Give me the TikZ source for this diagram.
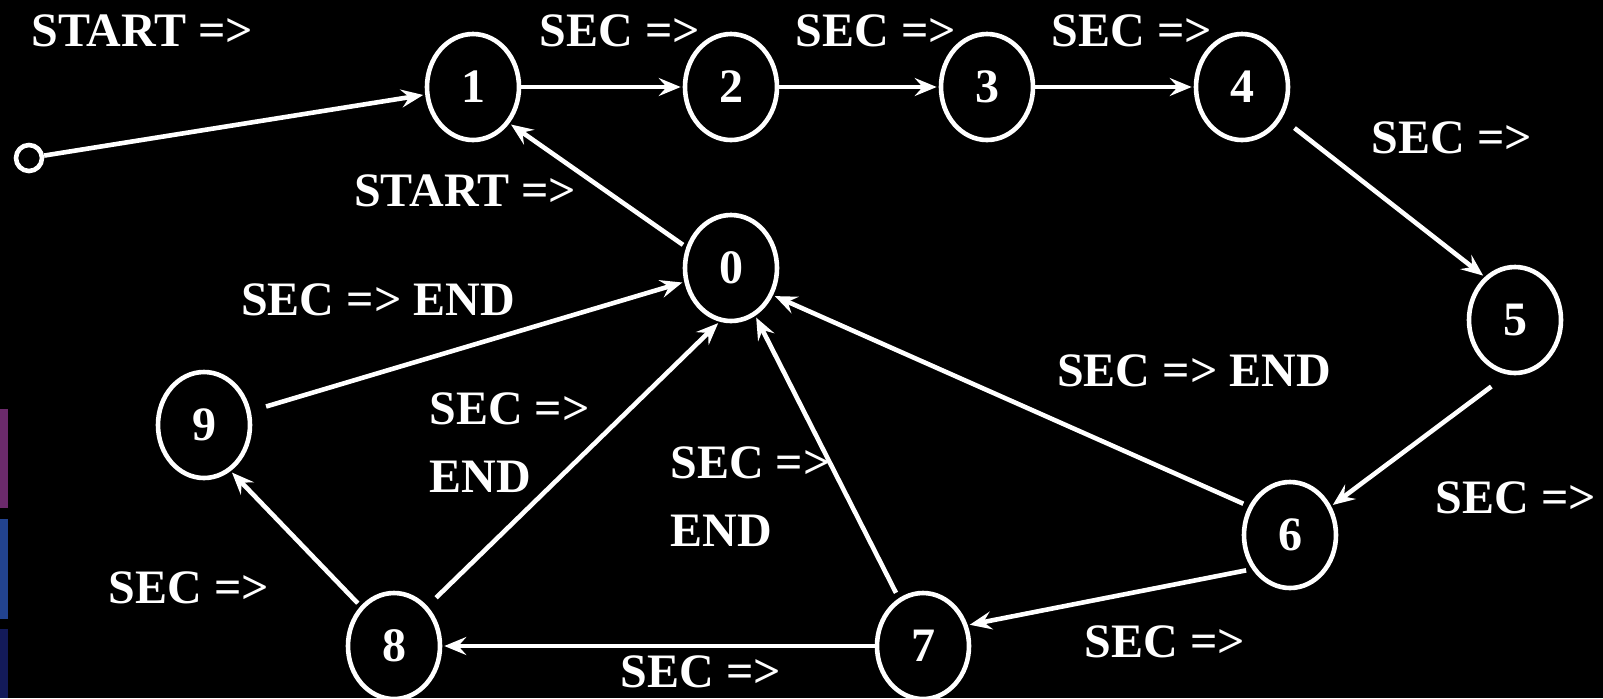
\documentclass[tikz,border=0pt]{standalone}
\usepackage{fontspec}
\setmainfont{Liberation Serif}
\usetikzlibrary{arrows.meta,shapes.geometric}
\begin{document}
\begin{tikzpicture}[x=0.5pt,y=-0.5pt,
  every node/.style={text=white, font=\fontsize{24}{34}\selectfont\bfseries},
  st/.style={draw=white, line width=2.3pt, ellipse, minimum width=46pt, minimum height=53pt, inner sep=0pt},
  lbl/.style={inner sep=0pt},
  conn/.style={draw=white, line width=2.3pt, -{Stealth[length=11pt,width=9pt,inset=4pt]}, shorten >=1pt}]
\fill[black] (0,0) rectangle (1603,698);
\useasboundingbox (0,0) rectangle (1603,698);
% side bars
\fill[fill={rgb,255:red,107;green,42;blue,107}] (0,409) rectangle (8,508);
\fill[fill={rgb,255:red,34;green,67;blue,143}] (0,519) rectangle (8,619);
\fill[fill={rgb,255:red,19;green,26;blue,90}] (0,629) rectangle (8,698);
% states
\node[st] (n1) at (473,87) {1};
\node[st] (n2) at (731,87) {2};
\node[st] (n3) at (987,87) {3};
\node[st] (n4) at (1242,87) {4};
\node[st] (n0) at (731,268) {0};
\node[st] (n5) at (1515,320) {5};
\node[st] (n6) at (1290,535) {6};
\node[st] (n7) at (923,646) {7};
\node[st] (n8) at (394,646) {8};
\node[st] (n9) at (204,425) {9};
\node[draw=white, line width=2.3pt, circle, minimum size=13pt, inner sep=0pt] (s) at (29,158) {};
% connectors
\draw[conn] (s) -- (n1);
\draw[conn] (n1) -- (n2);
\draw[conn] (n2) -- (n3);
\draw[conn] (n3) -- (n4);
\draw[conn, shorten <=8pt] (n4) -- (n5.125);
\draw[conn, shorten <=10pt] (n5.-98) -- (n6.35);
\draw[conn, shorten <=3pt] (n6.145) -- (n0.-33);
\draw[conn, shorten <=3pt] (n6.-138) -- (n7.25);
\draw[conn, shorten <=3pt] (n7) -- (n0);
\draw[conn] (n7) -- (n8);
\draw[conn, shorten <=6pt] (n8.50) -- (n0.-102);
\draw[conn, shorten <=2pt] (n8.130) -- (n9.-60);
\draw[conn, shorten <=8pt] (n9) -- (n0);
\draw[conn, shorten <=2pt] (n0.155) -- (n1.-45);
% labels
\node[lbl, anchor=west] (l1) at (31,31) {START =>};
\node[lbl] (l2) at (620,31) {SEC =>};
\node[lbl] (l3) at (876,31) {SEC =>};
\node[lbl] (l4) at (1132,31) {SEC =>};
\node[lbl] (l5) at (1452,138) {SEC =>};
\node[lbl] (l6) at (465,191) {START =>};
\node[lbl] (l7) at (378,300) {SEC => END};
\node[lbl] (l8) at (1194,371) {SEC => END};
\node[lbl, anchor=west, align=left] (l9) at (429,443) {SEC =>\\END};
\node[lbl, anchor=west, align=left] (l10) at (670,497) {SEC =>\\END};
\node[lbl] (l11) at (1516,498) {SEC =>};
\node[lbl] (l12) at (189,588) {SEC =>};
\node[lbl] (l13) at (1165,642) {SEC =>};
\node[lbl] (l14) at (701,672) {SEC =>};
\end{tikzpicture}
\end{document}
